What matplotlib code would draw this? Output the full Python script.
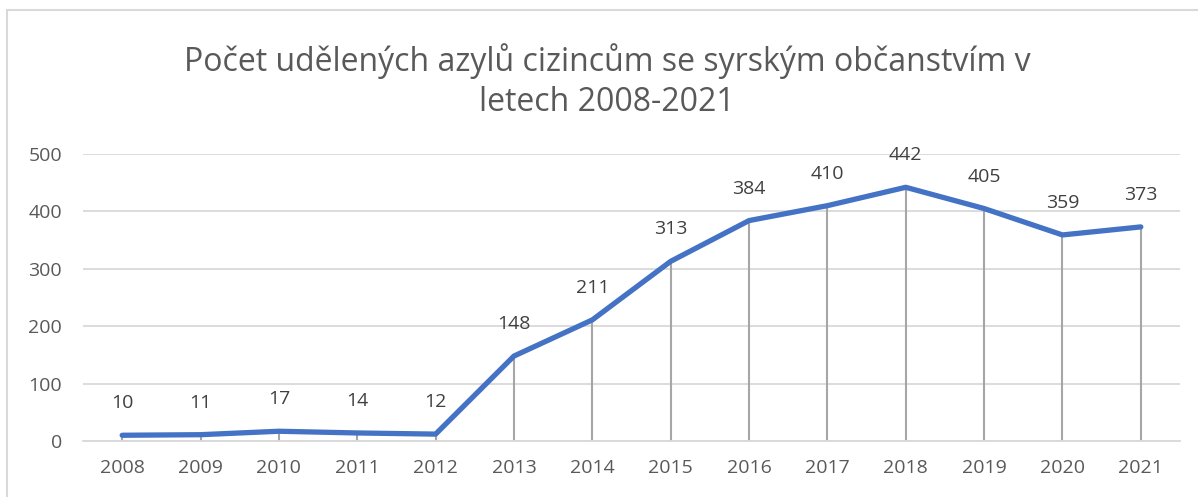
import matplotlib.pyplot as plt
from matplotlib.patches import Rectangle

years = ["2008", "2009", "2010", "2011", "2012", "2013", "2014",
         "2015", "2016", "2017", "2018", "2019", "2020", "2021"]
asylums = [10, 11, 17, 14, 12, 148, 211, 313, 384, 410, 442, 405, 359, 373]
y_ticks = [0, 100, 200, 300, 400, 500]

title = "Počet udělených azylů cizincům se syrským občanstvím v\nletech 2008-2021"

plt.rcParams["font.family"] = ["Open Sans", "DejaVu Sans"]

W, H = 1198, 497
fig = plt.figure(figsize=(W / 100, H / 100), dpi=100)

# outer chart border (Excel style)
fig.patches.append(Rectangle((7 / W, -0.05), 1.2, (H - 10) / H + 0.05,
                             transform=fig.transFigure, fill=False,
                             edgecolor="#d9d9d9", linewidth=1.5))

ax = fig.add_axes([83 / W, 56 / H, (1180 - 83) / W, (441 - 154) / H])

x = list(range(len(years)))

# drop lines
ax.vlines(x, 0, asylums, color="#a6a6a6", linewidth=1.5, zorder=2)
ax.plot(x, asylums, color="#4472c4", linewidth=3.8, solid_capstyle="round",
        solid_joinstyle="round", zorder=3)

for xi, v in zip(x, asylums):
    ax.annotate(str(v), (xi, v), xytext=(0, 23), textcoords="offset points",
                ha="center", va="center", fontsize=14, color="#404040")

ax.set_xlim(-0.5, len(years) - 0.5)
ax.set_ylim(0, 500)
ax.set_yticks(y_ticks)
ax.set_xticks(x)
ax.set_xticklabels(years)
ax.grid(axis="y", color="#d9d9d9", linewidth=1.3, zorder=0)
ax.set_axisbelow(True)
for s in ["top", "right", "left"]:
    ax.spines[s].set_visible(False)
ax.spines["bottom"].set_color("#d9d9d9")
ax.spines["bottom"].set_linewidth(1.3)
ax.tick_params(axis="both", length=0, labelsize=14, labelcolor="#595959")
ax.tick_params(axis="x", pad=13)
ax.tick_params(axis="y", pad=15)

fig.text(607 / W, 1 - 81 / H, title, ha="center", va="center",
         fontsize=23, color="#595959", linespacing=1.3)

fig.savefig("out.png", dpi=100)
